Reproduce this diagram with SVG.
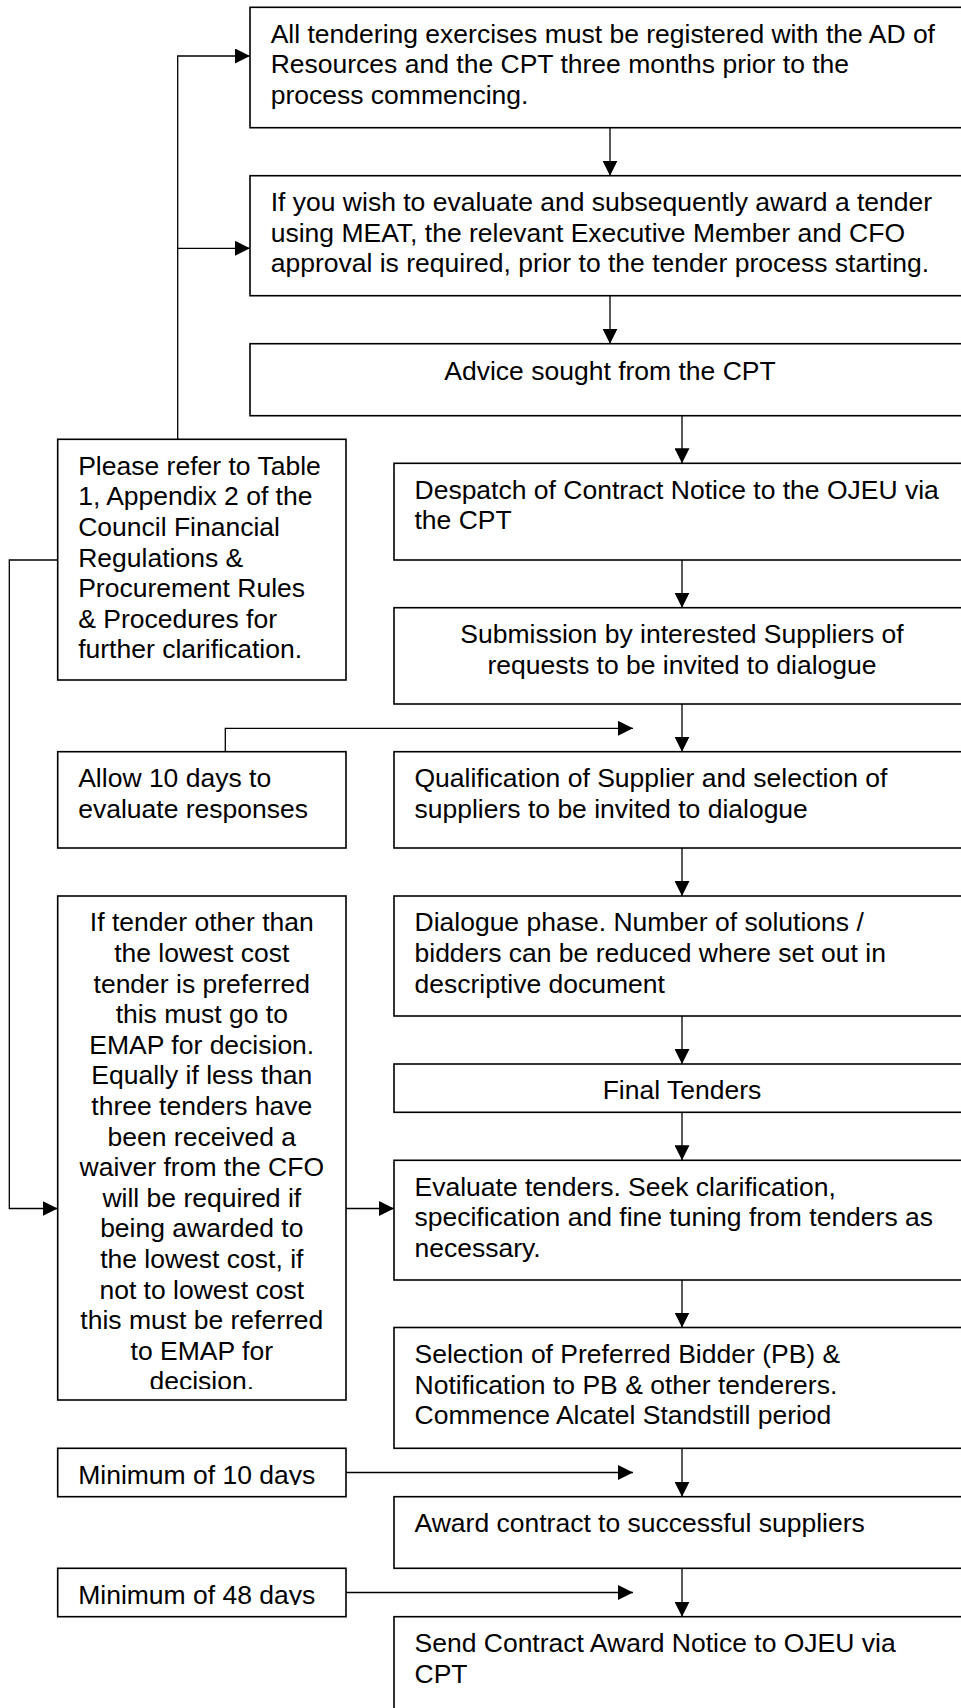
<svg xmlns="http://www.w3.org/2000/svg" width="961" height="1708" viewBox="0 0 961 1708">
  <style>
    .box { fill: #ffffff; stroke: #000000; stroke-width: 1.6; }
    .lbl { font-family: "Liberation Sans", Arial, Helvetica, sans-serif; font-size: 26.5px; fill: #000000; }
    .mid { text-anchor: middle; }
    .wire { fill: none; stroke: #000000; stroke-width: 1.3; }
  </style>
  <defs>
    <marker id="head" markerUnits="userSpaceOnUse" markerWidth="15" markerHeight="15" refX="15" refY="7.5" orient="auto">
      <path d="M0,0 L15,7.5 L0,15 z" fill="#000000"/>
    </marker>
    <!-- text areas that cut off overflowing lines -->
    <clipPath id="clipWaiver"><rect x="58" y="896" width="288" height="493"/></clipPath>
    <clipPath id="clipMin10"><rect x="58" y="1448" width="288" height="37"/></clipPath>
    <clipPath id="clipMin48"><rect x="58" y="1568" width="288" height="37"/></clipPath>
  </defs>

  <!-- connectors -->
  <g id="connectors">
    <!-- reference note feeds the first two steps -->
    <polyline class="wire" points="177.7,439.3 177.7,56 250,56" marker-end="url(#head)"/>
    <polyline class="wire" points="177.7,248.3 250,248.3" marker-end="url(#head)"/>
    <!-- reference note feeds the waiver note -->
    <polyline class="wire" points="57.7,560 9.3,560 9.3,1208.5 57.7,1208.5" marker-end="url(#head)"/>
    <polyline class="wire" points="346,1208.5 394,1208.5" marker-end="url(#head)"/>
    <!-- timing notes -->
    <polyline class="wire" points="225.3,751.7 225.3,728.3 633,728.3" marker-end="url(#head)"/>
    <polyline class="wire" points="346,1472.5 633,1472.5" marker-end="url(#head)"/>
    <polyline class="wire" points="346,1592.5 633,1592.5" marker-end="url(#head)"/>
    <!-- main sequence -->
    <line class="wire" x1="610" y1="127.7" x2="610" y2="175.7" marker-end="url(#head)"/>
    <line class="wire" x1="610" y1="295.7" x2="610" y2="343.7" marker-end="url(#head)"/>
    <line class="wire" x1="682" y1="415.7" x2="682" y2="463.3" marker-end="url(#head)"/>
    <line class="wire" x1="682" y1="560" x2="682" y2="607.7" marker-end="url(#head)"/>
    <line class="wire" x1="682" y1="704" x2="682" y2="751.7" marker-end="url(#head)"/>
    <line class="wire" x1="682" y1="848" x2="682" y2="896" marker-end="url(#head)"/>
    <line class="wire" x1="682" y1="1016" x2="682" y2="1064" marker-end="url(#head)"/>
    <line class="wire" x1="682" y1="1112.3" x2="682" y2="1160.3" marker-end="url(#head)"/>
    <line class="wire" x1="682" y1="1280" x2="682" y2="1327.5" marker-end="url(#head)"/>
    <line class="wire" x1="682" y1="1448.3" x2="682" y2="1496.7" marker-end="url(#head)"/>
    <line class="wire" x1="682" y1="1568.3" x2="682" y2="1616.7" marker-end="url(#head)"/>
  </g>

  <!-- main column -->
  <g id="register">
    <rect class="box" x="250" y="7.3" width="730" height="120.4"/>
    <text class="lbl" x="270.7" y="42.7">All tendering exercises must be registered with the AD of</text>
    <text class="lbl" x="270.7" y="73.3">Resources and the CPT three months prior to the</text>
    <text class="lbl" x="270.7" y="103.9">process commencing.</text>
  </g>
  <g id="meat-approval">
    <rect class="box" x="250" y="175.7" width="730" height="120"/>
    <text class="lbl" x="270.7" y="211.1">If you wish to evaluate and subsequently award a tender</text>
    <text class="lbl" x="270.7" y="241.7">using MEAT, the relevant Executive Member and CFO</text>
    <text class="lbl" x="270.7" y="272.3">approval is required, prior to the tender process starting.</text>
  </g>
  <g id="advice">
    <rect class="box" x="250" y="343.7" width="730" height="72"/>
    <text class="lbl mid" x="610" y="379.6">Advice sought from the CPT</text>
  </g>
  <g id="contract-notice">
    <rect class="box" x="394" y="463.3" width="586" height="96.7"/>
    <text class="lbl" x="414.5" y="498.8">Despatch of Contract Notice to the OJEU via</text>
    <text class="lbl" x="414.5" y="529.4">the CPT</text>
  </g>
  <g id="submission">
    <rect class="box" x="394" y="607.7" width="586" height="96.3"/>
    <text class="lbl mid" x="682" y="643.1">Submission by interested Suppliers of</text>
    <text class="lbl mid" x="682" y="673.7">requests to be invited to dialogue</text>
  </g>
  <g id="qualification">
    <rect class="box" x="394" y="751.7" width="586" height="96.3"/>
    <text class="lbl" x="414.5" y="787.1">Qualification of Supplier and selection of</text>
    <text class="lbl" x="414.5" y="817.7">suppliers to be invited to dialogue</text>
  </g>
  <g id="dialogue">
    <rect class="box" x="394" y="896" width="586" height="120"/>
    <text class="lbl" x="414.5" y="931.4">Dialogue phase. Number of solutions /</text>
    <text class="lbl" x="414.5" y="962">bidders can be reduced where set out in</text>
    <text class="lbl" x="414.5" y="992.6">descriptive document</text>
  </g>
  <g id="final-tenders">
    <rect class="box" x="394" y="1064" width="586" height="48.3"/>
    <text class="lbl mid" x="682" y="1098.8">Final Tenders</text>
  </g>
  <g id="evaluate">
    <rect class="box" x="394" y="1160.3" width="586" height="119.7"/>
    <text class="lbl" x="414.5" y="1195.7">Evaluate tenders. Seek clarification,</text>
    <text class="lbl" x="414.5" y="1226.3">specification and fine tuning from tenders as</text>
    <text class="lbl" x="414.5" y="1256.9">necessary.</text>
  </g>
  <g id="preferred-bidder">
    <rect class="box" x="394" y="1327.5" width="586" height="120.8"/>
    <text class="lbl" x="414.5" y="1362.9">Selection of Preferred Bidder (PB) &amp;</text>
    <text class="lbl" x="414.5" y="1393.5">Notification to PB &amp; other tenderers.</text>
    <text class="lbl" x="414.5" y="1424.1">Commence Alcatel Standstill period</text>
  </g>
  <g id="award">
    <rect class="box" x="394" y="1496.7" width="586" height="71.6"/>
    <text class="lbl" x="414.5" y="1532.1">Award contract to successful suppliers</text>
  </g>
  <g id="award-notice">
    <rect class="box" x="394" y="1616.7" width="586" height="120"/>
    <text class="lbl" x="414.5" y="1652.1">Send Contract Award Notice to OJEU via</text>
    <text class="lbl" x="414.5" y="1682.7">CPT</text>
  </g>

  <!-- side notes -->
  <g id="regulations-note">
    <rect class="box" x="57.7" y="439.3" width="288.3" height="240.7"/>
    <text class="lbl" x="78.2" y="474.7">Please refer to Table</text>
    <text class="lbl" x="78.2" y="505.3">1, Appendix 2 of the</text>
    <text class="lbl" x="78.2" y="535.9">Council Financial</text>
    <text class="lbl" x="78.2" y="566.5">Regulations &amp;</text>
    <text class="lbl" x="78.2" y="597.1">Procurement Rules</text>
    <text class="lbl" x="78.2" y="627.7">&amp; Procedures for</text>
    <text class="lbl" x="78.2" y="658.3">further clarification.</text>
  </g>
  <g id="evaluation-time">
    <rect class="box" x="57.7" y="751.7" width="288.3" height="96.3"/>
    <text class="lbl" x="78.2" y="787.1">Allow 10 days to</text>
    <text class="lbl" x="78.2" y="817.7">evaluate responses</text>
  </g>
  <g id="waiver-note">
    <rect class="box" x="57.7" y="896" width="288.3" height="504"/>
    <g clip-path="url(#clipWaiver)">
      <text class="lbl mid" x="201.8" y="931.4">If tender other than</text>
      <text class="lbl mid" x="201.8" y="962">the lowest cost</text>
      <text class="lbl mid" x="201.8" y="992.6">tender is preferred</text>
      <text class="lbl mid" x="201.8" y="1023.2">this must go to</text>
      <text class="lbl mid" x="201.8" y="1053.8">EMAP for decision.</text>
      <text class="lbl mid" x="201.8" y="1084.4">Equally if less than</text>
      <text class="lbl mid" x="201.8" y="1115">three tenders have</text>
      <text class="lbl mid" x="201.8" y="1145.6">been received a</text>
      <text class="lbl mid" x="201.8" y="1176.2">waiver from the CFO</text>
      <text class="lbl mid" x="201.8" y="1206.8">will be required if</text>
      <text class="lbl mid" x="201.8" y="1237.4">being awarded to</text>
      <text class="lbl mid" x="201.8" y="1268">the lowest cost, if</text>
      <text class="lbl mid" x="201.8" y="1298.6">not to lowest cost</text>
      <text class="lbl mid" x="201.8" y="1329.2">this must be referred</text>
      <text class="lbl mid" x="201.8" y="1359.8">to EMAP for</text>
      <text class="lbl mid" x="201.8" y="1390.4">decision.</text>
    </g>
  </g>
  <g id="standstill-time">
    <rect class="box" x="57.7" y="1448.3" width="288.3" height="48.4"/>
    <text class="lbl" x="78.2" y="1483.7" clip-path="url(#clipMin10)">Minimum of 10 days</text>
  </g>
  <g id="notice-time">
    <rect class="box" x="57.7" y="1568.3" width="288.3" height="48.4"/>
    <text class="lbl" x="78.2" y="1603.7" clip-path="url(#clipMin48)">Minimum of 48 days</text>
  </g>
</svg>
